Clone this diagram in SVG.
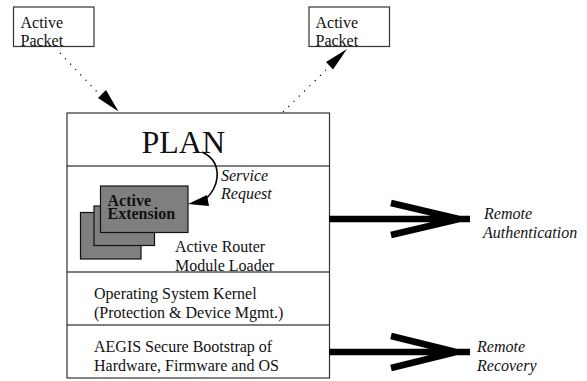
<svg xmlns="http://www.w3.org/2000/svg" width="587" height="381" viewBox="0 0 587 381">
<style>
text{font-family:"Liberation Serif","Times New Roman",serif;font-size:16px;fill:#111}
.i{font-style:italic}
.b{font-weight:bold}
.box{fill:#fff;stroke:#333;stroke-width:1.2}
.card{fill:#7f7f7f;stroke:#111;stroke-width:1.2}
.sep{stroke:#000;stroke-width:1.1;fill:none}
.dot{stroke:#000;stroke-width:1.2;stroke-dasharray:1.2 6.2;fill:none}
.thick{stroke:#000;stroke-width:6.5;fill:none}
</style>
<rect width="587" height="381" fill="#fff"/>
<g id="packet-left"><rect class="box" x="13.5" y="7" width="80.5" height="39.5"/><text x="20.5" y="27.5">Active</text><text x="20.5" y="46">Packet</text></g>
<g id="packet-right"><rect class="box" x="309" y="7" width="80.5" height="39.5"/><text x="315.5" y="27.5">Active</text><text x="315.5" y="46">Packet</text></g>
<g id="router">
<rect class="box" x="67" y="113" width="262.5" height="265"/>
<path class="sep" d="M67 166H329M67 272H329M67 325H329"/>
<text x="141.5" y="153" style="font-size:32px">PLAN</text>
<text x="175" y="252">Active Router</text>
<text x="175" y="271">Module Loader</text>
<text x="94" y="299">Operating System Kernel</text>
<text x="94" y="318">(Protection &amp; Device Mgmt.)</text>
<text x="94" y="352">AEGIS Secure Bootstrap of</text>
<text x="94" y="371">Hardware, Firmware and OS</text>
</g>
<g id="extension">
<rect class="card" x="80.5" y="212.5" width="60.5" height="46.5"/>
<rect class="card" x="94" y="206" width="60.5" height="39.5"/>
<rect class="card" x="100.5" y="186" width="87.5" height="46.5"/>
<text class="b" x="107.5" y="206">Active</text>
<text class="b" x="107.5" y="219">Extension</text>
</g>
<g id="connectors">
<path class="dot" d="M60 53L100 95"/>
<path d="M118.500 111.500L98 98L106 90Z" fill="#000"/>
<path class="dot" d="M283 112L326 70"/>
<path d="M347 49L333 69.500L326 62Z" fill="#000"/>
<path d="M202 152C215 158 218 168 217 178C216 187 212 193 206 199" fill="none" stroke="#000" stroke-width="1.6"/>
<path d="M188 204L207 195L209 206Z" fill="#000"/>
<path class="thick" d="M329 219H470M391 203L459 219L391 235"/>
<path class="thick" d="M329 352H470M391 336L456 352L391 368"/>
</g>
<g id="labels">
<text class="i" x="221" y="181">Service</text>
<text class="i" x="221" y="199">Request</text>
<text class="i" x="484" y="219">Remote</text>
<text class="i" x="483" y="238">Authentication</text>
<text class="i" x="477" y="352">Remote</text>
<text class="i" x="477" y="371">Recovery</text>
</g>
</svg>
